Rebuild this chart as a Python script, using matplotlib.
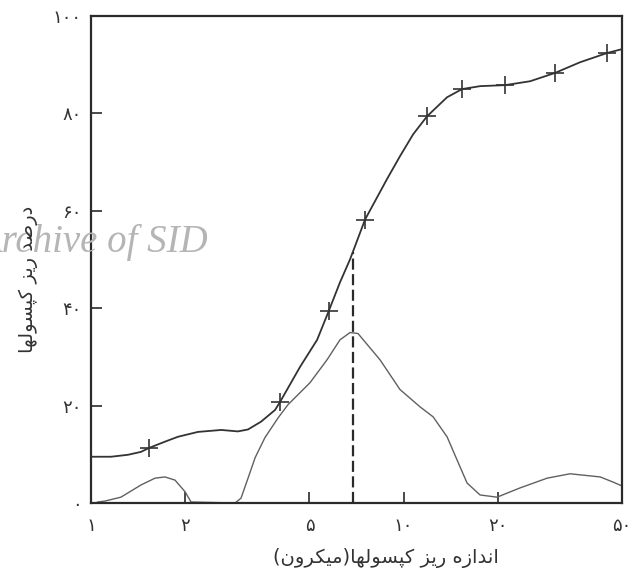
import numpy as np
import matplotlib
matplotlib.use("Agg")
import matplotlib.pyplot as plt

# ---------------- data ----------------
# cumulative curve: percent of microcapsules vs size (micron)
cum_x = [1.0, 1.159, 1.313, 1.445, 1.533, 1.725, 1.898, 2.20, 2.61, 2.95, 3.18, 3.50, 3.88,
         4.03, 4.67, 5.29, 5.77, 6.26, 6.74, 7.53, 8.85, 9.74, 10.73, 11.89, 13.77, 15.4,
         17.6, 21.1, 25.4, 30.5, 36.7, 44.8, 50.0]
cum_y = [9.5, 9.5, 9.9, 10.5, 11.3, 12.6, 13.6, 14.6, 15.0, 14.7, 15.1, 16.7, 19.1,
         20.8, 28.0, 33.5, 39.5, 45.3, 50.0, 58.2, 66.5, 71.2, 75.7, 79.4, 83.3, 85.0,
         85.6, 85.8, 86.6, 88.3, 90.5, 92.4, 93.2]
cum_marker_idx = [4, 13, 16, 19, 23, 25, 27, 29, 31]

# frequency (distribution) curve
freq_x = [1.05, 1.109, 1.247, 1.445, 1.603, 1.725, 1.857, 2.0, 2.09, 2.89, 3.02, 3.18, 3.35,
          3.60, 3.97, 4.27, 5.02, 5.69, 6.26, 6.74, 7.15, 8.41, 9.74, 11.29, 12.43, 13.78,
          14.83, 15.97, 17.57, 19.92, 23.6, 28.8, 34.1, 42.6, 46.8, 50.0]
freq_y = [0.2, 0.4, 1.2, 3.7, 5.1, 5.35, 4.7, 2.3, 0.2, 0.0, 1.0, 5.1, 9.3,
          13.4, 17.5, 20.2, 24.7, 29.4, 33.5, 35.0, 34.8, 29.4, 23.3, 19.75, 17.7, 13.6,
          8.85, 4.1, 1.65, 1.2, 3.1, 5.1, 6.0, 5.35, 4.3, 3.5]

median_x = 6.89

x_ticks = [1, 2, 5, 10, 20, 50]
x_tick_labels = ['۱', '۲', '۵', '۱۰', '۲۰', '۵۰']
y_ticks = [0, 20, 40, 60, 80, 100]
y_tick_labels = ['۰', '۲۰', '۴۰', '۶۰', '۸۰', '۱۰۰']

x_label = 'اندازه ریز کپسولها(میکرون)'
y_label = 'درصد ریز کپسولها'
watermark = 'Archive of SID'

# ---------------- minimal Arabic/Persian shaping for display ----------------
FORMS = {  # iso, fin, ini, med   (None -> right-joining only)
    'ا': ('\uFE8D', '\uFE8E', None, None),
    'د': ('\uFEA9', '\uFEAA', None, None),
    'ر': ('\uFEAD', '\uFEAE', None, None),
    'ز': ('\uFEAF', '\uFEB0', None, None),
    'و': ('\uFEED', '\uFEEE', None, None),
    'ن': ('\uFEE5', '\uFEE6', '\uFEE7', '\uFEE8'),
    'ه': ('\uFEE9', '\uFEEA', '\uFEEB', '\uFEEC'),
    'ی': ('\uFBFC', '\uFBFD', '\uFBFE', '\uFBFF'),
    'ک': ('\uFB8E', '\uFB8F', '\uFB90', '\uFB91'),
    'پ': ('\uFB56', '\uFB57', '\uFB58', '\uFB59'),
    'س': ('\uFEB1', '\uFEB2', '\uFEB3', '\uFEB4'),
    'ل': ('\uFEDD', '\uFEDE', '\uFEDF', '\uFEE0'),
    'م': ('\uFEE1', '\uFEE2', '\uFEE3', '\uFEE4'),
    'ص': ('\uFEB9', '\uFEBA', '\uFEBB', '\uFEBC'),
}


def shape(text):
    out = []
    n = len(text)
    for i, ch in enumerate(text):
        if ch not in FORMS:
            out.append(ch)
            continue
        prev = text[i - 1] if i > 0 else ''
        nxt = text[i + 1] if i + 1 < n else ''
        cp = prev in FORMS and FORMS[prev][2] is not None
        cn = FORMS[ch][2] is not None and nxt in FORMS
        iso, fin, ini, med = FORMS[ch]
        if cp and cn:
            out.append(med)
        elif cp:
            out.append(fin)
        elif cn:
            out.append(ini)
        else:
            out.append(iso)
    vis = ''.join(reversed(out))
    swap = {'(': ')', ')': '('}
    return ''.join(swap.get(c, c) for c in vis)


# ---------------- figure ----------------
fig = plt.figure(figsize=(6.34, 5.72), dpi=100)
ax = fig.add_axes([91 / 634, 1 - 503 / 572, (622 - 91) / 634, (503 - 16) / 572])

ink = '#2a2a2a'
ax.plot(freq_x, freq_y, color='#606060', lw=1.0, zorder=2)
ax.plot(cum_x, cum_y, color='#333333', lw=1.3, marker='+', markersize=13,
        markeredgewidth=1.2, markevery=cum_marker_idx, zorder=3)

# median dashed line up to the cumulative curve
lx = np.log10(cum_x)
median_top = np.interp(np.log10(median_x), lx, cum_y)
ax.plot([median_x, median_x], [0, median_top], color=ink, lw=1.6,
        ls=(0, (5, 2)), zorder=2)

ax.set_xscale('log')
ax.set_xlim(1, 50)
ax.set_ylim(0, 100)
ax.set_xticks(x_ticks)
ax.set_xticklabels(x_tick_labels)
ax.xaxis.set_minor_locator(matplotlib.ticker.NullLocator())
ax.set_yticks(y_ticks)
ax.set_yticklabels(y_tick_labels)
ax.tick_params(direction='in', length=8, width=1.2, colors=ink,
               labelsize=13, labelcolor='#333333')
ax.tick_params(axis='x', pad=10)
ax.tick_params(axis='y', pad=7)

for s in ax.spines.values():
    s.set_linewidth(1.6)
    s.set_color(ink)

fig.text(386 / 634, 1 - 558 / 572, shape(x_label), ha='center', va='center',
         fontsize=14, color='#333333', family='DejaVu Sans')
fig.text(28 / 634, 1 - 279 / 572, shape(y_label), ha='center', va='center',
         rotation=90, fontsize=14, color='#333333', family='DejaVu Sans')

fig.text(-22 / 634, 1 - 252 / 572, watermark, ha='left', va='baseline',
         fontsize=28, color='#b5b5b5', style='italic',
         family='Liberation Serif', zorder=0)

fig.savefig('out.png', dpi=100)
